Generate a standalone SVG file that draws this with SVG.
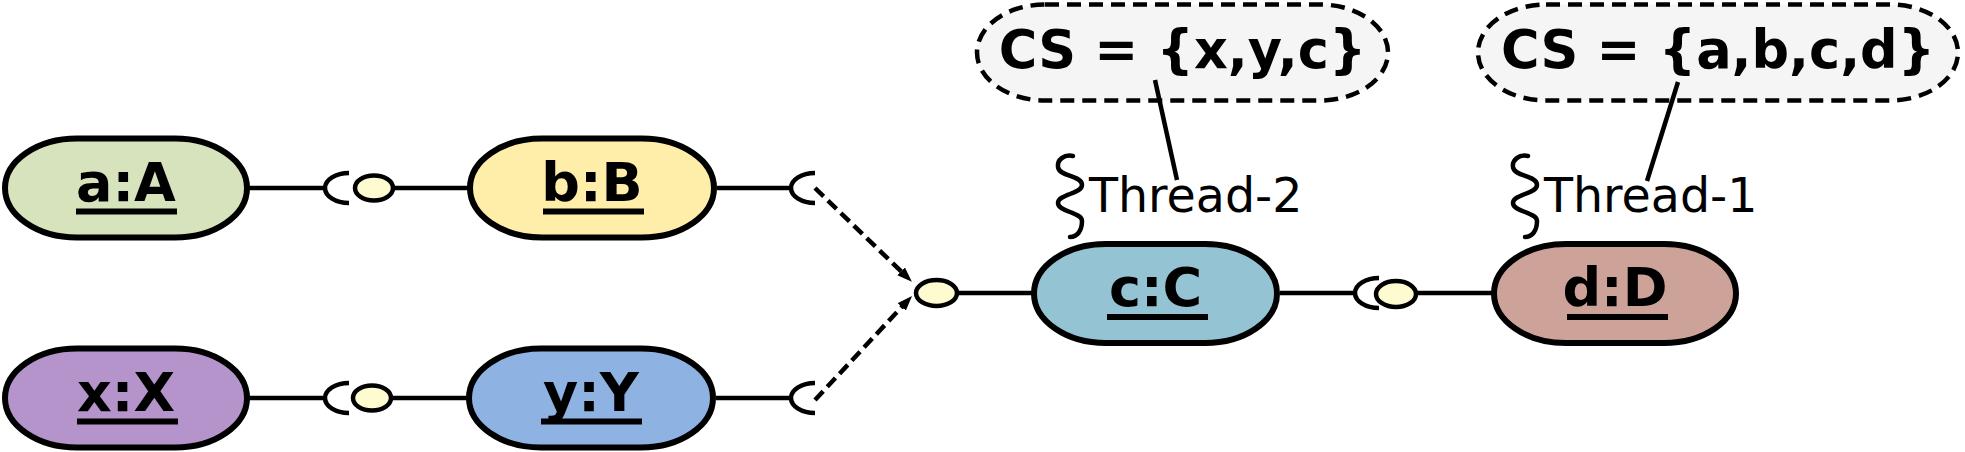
<svg xmlns="http://www.w3.org/2000/svg" width="1965" height="452" viewBox="0 0 1965 452">
<defs>
<style>
.node rect { stroke:#000; stroke-width:6; }
.label { font-family:"DejaVu Sans","Liberation Sans",sans-serif; font-weight:bold; font-size:54px; text-anchor:middle; fill:#000; }
.cs .label { font-size:52.5px; }
.ul { stroke:#000; stroke-width:6; }
.wire { stroke:#000; stroke-width:4.5; fill:none; }
.ball { fill:#fffbd0; stroke:#000; stroke-width:4.5; }
.dep { stroke:#000; stroke-width:4.5; fill:none; stroke-dasharray:12 6; }
.cs rect { fill:#f5f5f5; stroke:#000; stroke-width:4.5; stroke-dasharray:14 8; }
.thread text { font-family:"DejaVu Sans","Liberation Sans",sans-serif; font-size:47.5px; fill:#000; }
.squig { fill:none; stroke:#000; stroke-width:4.5; stroke-linecap:round; }
</style>
<marker id="arrow" markerUnits="userSpaceOnUse" markerWidth="18" markerHeight="12" refX="4" refY="5.5" orient="auto"><path d="M0,0 L15,5.5 L0,11 z" fill="#000"/></marker>
</defs>

<g id="connectors">
  <!-- row 1 -->
  <line class="wire" x1="249" y1="188" x2="324" y2="188"/>
  <path class="wire" d="M349,173 A24,15 0 0 0 349,203"/>
  <line class="wire" x1="395" y1="188" x2="468" y2="188"/>
  <ellipse class="ball" cx="374" cy="188" rx="19" ry="12.5"/>
  <line class="wire" x1="717" y1="188" x2="790" y2="188"/>
  <path class="wire" d="M815,173 A24,15 0 0 0 815,203"/>
  <!-- row 2 -->
  <line class="wire" x1="249" y1="398" x2="324" y2="398"/>
  <path class="wire" d="M349,383 A24,15 0 0 0 349,413"/>
  <line class="wire" x1="393" y1="398" x2="468" y2="398"/>
  <ellipse class="ball" cx="372" cy="398" rx="19" ry="12.5"/>
  <line class="wire" x1="716" y1="398" x2="790" y2="398"/>
  <path class="wire" d="M815,383 A24,15 0 0 0 815,413"/>
  <!-- dependencies -->
  <line class="dep" x1="815" y1="188" x2="904" y2="274.2" marker-end="url(#arrow)"/>
  <line class="dep" x1="815" y1="400" x2="904.5" y2="304" marker-end="url(#arrow)"/>
  <!-- c provided interface -->
  <line class="wire" x1="957" y1="293" x2="1032" y2="293"/>
  <ellipse class="ball" cx="936.5" cy="293" rx="20.5" ry="13"/>
  <!-- c to d -->
  <line class="wire" x1="1280" y1="293" x2="1354" y2="293"/>
  <path class="wire" d="M1379,278 A24,15 0 0 0 1379,308"/>
  <line class="wire" x1="1416" y1="293" x2="1492" y2="293"/>
  <ellipse class="ball" cx="1396" cy="294" rx="20" ry="13"/>
</g>

<g id="node-a" class="node">
  <rect x="5" y="138.5" width="242" height="99" rx="72" ry="49.5" fill="#d6e3bc"/>
  <text class="label" x="126" y="200.5">a:A</text>
  <line class="ul" x1="76" y1="211.5" x2="177" y2="211.5"/>
</g>
<g id="node-b" class="node">
  <rect x="470" y="138.5" width="244" height="99" rx="72" ry="49.5" fill="#feeeaa"/>
  <text class="label" x="592" y="200.5">b:B</text>
  <line class="ul" x1="543" y1="211.5" x2="644" y2="211.5"/>
</g>
<g id="node-x" class="node">
  <rect x="5" y="348.5" width="242" height="99" rx="72" ry="49.5" fill="#b494cb"/>
  <text class="label" x="126" y="410.5">x:X</text>
  <line class="ul" x1="77" y1="421.5" x2="178" y2="421.5"/>
</g>
<g id="node-y" class="node">
  <rect x="469" y="348.5" width="244" height="99" rx="72" ry="49.5" fill="#8eb3e2"/>
  <text class="label" x="591" y="410.5">y:Y</text>
  <line class="ul" x1="541" y1="421.5" x2="642" y2="421.5"/>
</g>
<g id="node-c" class="node">
  <rect x="1034" y="244" width="243" height="99" rx="72" ry="49.5" fill="#94c3d3"/>
  <text class="label" x="1155.5" y="306">c:C</text>
  <line class="ul" x1="1107" y1="317" x2="1208" y2="317"/>
</g>
<g id="node-d" class="node">
  <rect x="1494" y="244" width="242" height="99" rx="72" ry="49.5" fill="#cca299"/>
  <text class="label" x="1615" y="306">d:D</text>
  <line class="ul" x1="1567" y1="317" x2="1668" y2="317"/>
</g>

<g id="cs-thread2" class="cs">
  <rect x="977" y="4.5" width="411" height="96" rx="68" ry="48"/>
  <text class="label" x="1182.5" y="68">CS = {x,y,c}</text>
</g>
<g id="cs-thread1" class="cs">
  <rect x="1478" y="4.5" width="480" height="96" rx="68" ry="48"/>
  <text class="label" x="1718" y="68">CS = {a,b,c,d}</text>
</g>

<g id="thread2" class="thread">
  <path class="squig" d="M1073,156 C1064,154 1057,160 1058,167 C1059,177 1082,175 1082,185 C1082,194 1058,194 1058,203 C1058,212 1082,212 1082,221 C1082,231 1077,237 1070,237"/>
  <text x="1089" y="212">Thread-2</text>
</g>
<g id="thread1" class="thread">
  <path class="squig" d="M1528,156 C1519,154 1512,160 1513,167 C1514,177 1537,175 1537,185 C1537,194 1513,194 1513,203 C1513,212 1537,212 1537,221 C1537,231 1532,237 1525,237"/>
  <text x="1544" y="212">Thread-1</text>
</g>

<g id="note-links">
  <line class="wire" x1="1155" y1="80" x2="1177" y2="180"/>
  <line class="wire" x1="1678" y1="82" x2="1647" y2="181"/>
</g>
</svg>
